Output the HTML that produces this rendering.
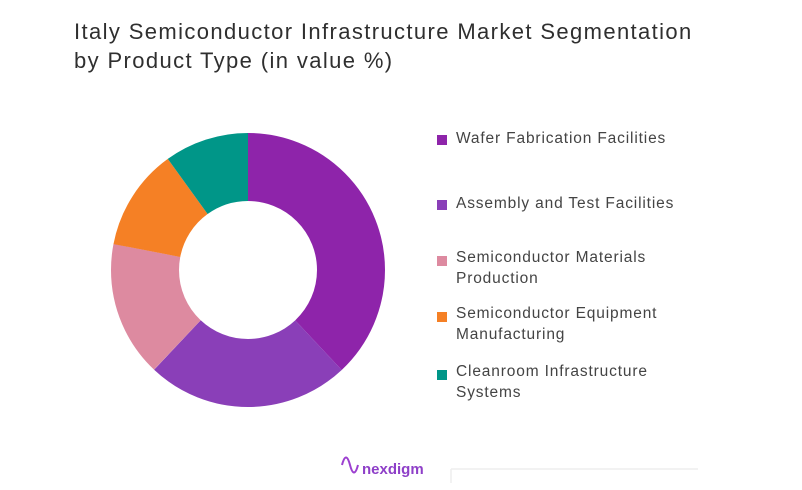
<!DOCTYPE html>
<html><head><meta charset="utf-8"><style>
body{margin:0;background:#fff;width:802px;height:490px;overflow:hidden;font-family:"Liberation Sans",sans-serif;}
.t{position:absolute;left:74px;top:17px;font-size:22px;line-height:29px;color:#2f2f2f;letter-spacing:1.38px}
.l{position:absolute;left:437px;font-size:15.5px;line-height:21px;color:#444;letter-spacing:0.85px}
.sw{position:absolute;left:437px;width:10px;height:10px}
</style></head><body>
<div class="t">Italy Semiconductor Infrastructure Market Segmentation<br>by Product Type (in value %)</div>
<svg width="802" height="490" style="position:absolute;left:0;top:0">
<g transform="translate(248,270) rotate(-90)" fill="none" stroke-width="68">
<circle r="103" stroke="#8e24aa" stroke-dasharray="245.9 1000" stroke-dashoffset="0"/>
<circle r="103" stroke="#8a3fb8" stroke-dasharray="155.3 1000" stroke-dashoffset="-245.9"/>
<circle r="103" stroke="#dd8aa0" stroke-dasharray="103.6 1000" stroke-dashoffset="-401.3"/>
<circle r="103" stroke="#f58025" stroke-dasharray="77.7 1000" stroke-dashoffset="-504.8"/>
<circle r="103" stroke="#009688" stroke-dasharray="64.8 1000" stroke-dashoffset="-582.5"/>
</g>
<path d="M342 465 q4 -15 8 0 t8 0" stroke="#9c3fd0" stroke-width="2" fill="none"/>
<text x="362" y="474" font-family="Liberation Sans" font-size="15" font-weight="bold" fill="#8e3fc8">nexdigm</text>
<line x1="451" y1="469" x2="698" y2="469" stroke="#eee" stroke-width="1.5"/>
<line x1="451" y1="469" x2="451" y2="483" stroke="#eee" stroke-width="1.5"/>
</svg>
<div class="sw" style="top:135px;background:#8e24aa"></div><div class="l" style="left:456px;top:128px">Wafer Fabrication Facilities</div>
<div class="sw" style="top:200px;background:#8a3fb8"></div><div class="l" style="left:456px;top:193px">Assembly and Test Facilities</div>
<div class="sw" style="top:256px;background:#dd8aa0"></div><div class="l" style="left:456px;top:247px">Semiconductor Materials<br>Production</div>
<div class="sw" style="top:312px;background:#f58025"></div><div class="l" style="left:456px;top:303px">Semiconductor Equipment<br>Manufacturing</div>
<div class="sw" style="top:370px;background:#009688"></div><div class="l" style="left:456px;top:361px">Cleanroom Infrastructure<br>Systems</div>
</body></html>
